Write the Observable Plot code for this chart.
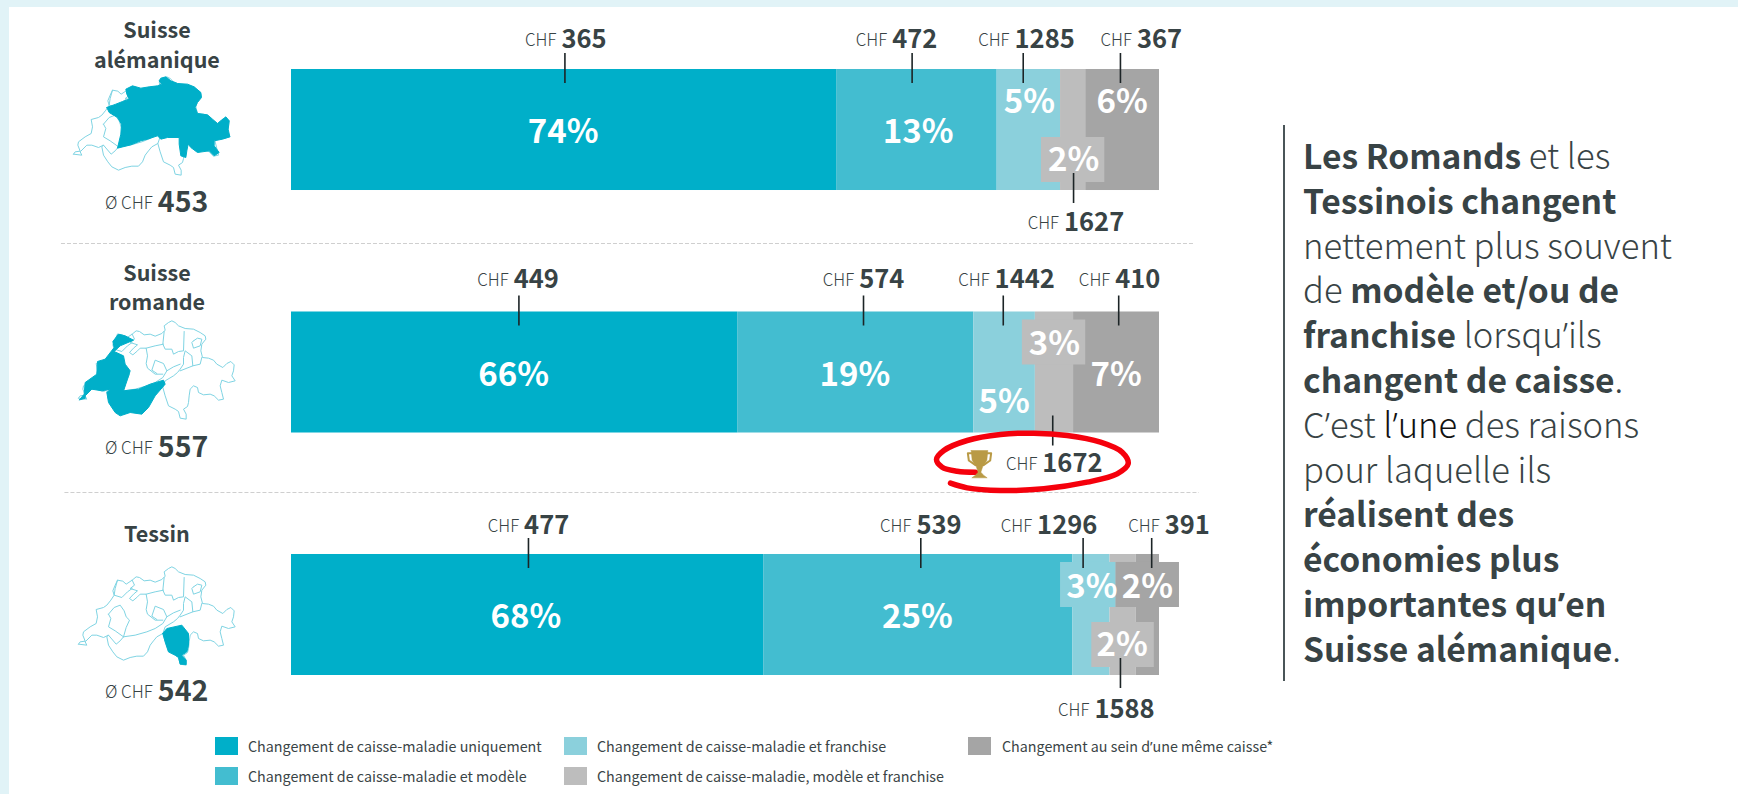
<!DOCTYPE html>
<html lang="fr">
<head>
<meta charset="utf-8">
<script src="https://cdn.jsdelivr.net/npm/d3@7"></script>
<script src="https://cdn.jsdelivr.net/npm/@observablehq/plot@0.6"></script>
<style>
  html,body{margin:0;padding:0;background:#e1f3f7;}
  #page{position:relative;width:1738px;height:794px;overflow:hidden;background:#e1f3f7;font-family:"Noto Sans CJK SC","Noto Sans",sans-serif;color:#384345;}
  #white{position:absolute;left:9px;top:7px;right:0;bottom:0;background:#fff;}
  #chart,.overlay{position:absolute;}
  svg{background:transparent !important;overflow:visible;}
  #story{position:absolute;left:1283px;top:125px;height:556px;border-left:2.5px solid #4a5558;padding-left:18px;font-size:34.6px;line-height:44.8px;font-weight:300;white-space:nowrap;}
  #story .inner{margin-top:7px;}
  #story b{font-weight:700;font-size:33.6px;line-height:0;} #story i{font-style:normal;color:#111;}
  .apo{font-family:"Noto Sans",sans-serif;line-height:0;}
  .lg{position:absolute;font-size:14.3px;line-height:18px;white-space:nowrap;color:#3a4446;}
  .sw{position:absolute;width:23px;height:18px;}
</style>
</head>
<body>
<div id="page"><div id="white"></div><div id="chart"></div><div id="story"><div class="inner">
<b>Les Romands</b> et les<br><b>Tessinois changent</b><br>nettement plus souvent<br>de <b>modèle et/ou de</b><br><b>franchise</b> lorsqu<span class="apo">’</span>ils<br><b>changent de caisse</b>.<br>C<span class="apo">’</span>est <i>l<span class="apo">’</span>une</i> des raisons<br>pour laquelle ils<br><b>réalisent des</b><br><b>économies plus</b><br><b>importantes qu<span class="apo">’</span>en</b><br><b>Suisse alémanique</b>.
</div></div></div>
<script>
// ---------- data ----------
const regions = ["Suisse alémanique", "Suisse romande", "Tessin"];
const regionTitles = ["Suisse\nalémanique", "Suisse\nromande", "Tessin"];
const regionAverages = [453, 557, 542];
const segments = [
  "Changement de caisse-maladie uniquement",
  "Changement de caisse-maladie et modèle",
  "Changement de caisse-maladie et franchise",
  "Changement de caisse-maladie, modèle et franchise",
  "Changement au sein d’une même caisse*"
];
const colors = ["#00afc9", "#43bdd0", "#8bd0dc", "#bdbdbd", "#a5a5a5"];
// drawn bar lengths (share of the bar)
const lengthsAlemanique = [62.8, 18.5, 7.3, 2.9, 8.5];
const lengthsRomande = [51.4, 27.2, 7.1, 4.4, 9.9];
const lengthsTessin = [54.4, 35.6, 4.3, 3.0, 2.7];
// printed percentages
const percentAlemanique = [74, 13, 5, 2, 6];
const percentRomande = [66, 19, 5, 3, 7];
const percentTessin = [68, 25, 3, 2, 2];
// where each percentage sits along the bar
const percentAtAlemanique = [31.3, 72.2, 85.0, 90.1, 95.7];
const percentAtRomande = [25.6, 64.9, 82.1, 87.9, 95.0];
const percentAtTessin = [27.0, 72.1, 92.2, 95.7, 98.6];
const percentLevelAlemanique = ["mid", "mid", "top", "low", "top"];
const percentLevelRomande = ["mid", "mid", "low", "top", "mid"];
const percentLevelTessin = ["mid", "mid", "top", "low", "top"];
// printed amounts (CHF) by segment
const chfAlemanique = [365, 472, 1285, 1627, 367];
const chfRomande = [449, 574, 1442, 1672, 410];
const chfTessin = [477, 539, 1296, 1588, 391];
const leaderAtAlemanique = [31.5, 71.5, 84.3, 90.1, 95.5];
const leaderAtRomande = [26.2, 65.9, 82.0, 87.7, 95.3];
const leaderAtTessin = [27.3, 72.5, 91.2, 95.5, 99.1];
const chfAtAlemanique = [31.1, 69.2, 83.3, 89.0, 97.4];
const chfAtRomande = [25.6, 65.4, 81.0, 86.5, 94.9];
const chfAtTessin = [26.8, 72.0, 85.9, 92.5, 100.6];
const boxRow = [0, 1, 2, 2, 2];
const boxSegment = [3, 3, 2, 4, 3];
const boxFrom = [86.4, 84.2, 88.6, 95.0, 92.2];
const boxTo = [93.7, 91.5, 95.0, 102.3, 99.4];
const boxLevel = ["low", "top", "top", "top", "low"];

// ---------- map outlines (read in picture units) ----------
const swissOutline = [[115,372],[120,365],[135,363],[128,345],[130,335],[150,320],[168,310],[172,290],[168,268],[190,262],[200,255],[212,240],[222,225],[218,212],[225,195],[232,180],[248,183],[258,192],[276,180],[288,170],[298,172],[312,182],[330,180],[345,186],[365,178],[375,168],[372,155],[385,145],[395,140],[405,145],[415,155],[435,163],[460,165],[480,175],[495,185],[497,195],[485,210],[482,230],[487,250],[505,252],[520,258],[530,270],[548,280],[560,268],[572,262],[582,272],[580,290],[575,305],[585,320],[565,325],[545,318],[540,335],[545,355],[550,375],[535,378],[522,365],[510,360],[490,362],[475,355],[472,340],[460,335],[450,345],[447,365],[445,385],[442,397],[430,405],[438,420],[438,435],[420,432],[415,412],[405,405],[385,395],[375,365],[368,340],[350,350],[340,362],[330,375],[322,395],[310,408],[290,408],[270,412],[250,420],[230,410],[218,395],[205,375],[200,350],[205,345],[190,352],[170,345],[155,345],[135,365],[140,375]];
const cantonLines = [
  [[276,180],[283,195],[270,205],[292,212],[280,222],[268,235],[278,242],[292,230],[300,222],[318,222],[322,245],[318,268],[322,282],[345,300],[368,300]],
  [[205,282],[222,262],[240,255],[252,272],[258,290],[268,300],[258,322],[250,350],[240,362],[228,372],[205,345]],
  [[205,282],[212,295],[205,320],[225,332],[250,350]],
  [[250,350],[285,345],[320,335],[345,325],[368,310],[380,290],[370,268],[345,258],[335,288],[350,298]],
  [[368,340],[375,320],[400,305],[412,295],[420,285],[430,270],[430,250],[435,230],[455,245],[458,275],[420,290]],
  [[372,172],[368,210],[375,225],[395,225],[400,240],[415,232],[430,230],[432,172]],
  [[460,200],[472,192],[485,195],[480,215],[460,222],[455,205],[460,200]],
  [[458,275],[480,270],[485,250]],
  [[380,290],[400,278],[420,270]],
  [[318,222],[345,215],[370,210]],
  [[232,180],[225,205],[222,225],[245,232],[262,215],[276,205]]
];
// fills, each read in its own crop's units
const fillAlemanique = [[318,320],[345,310],[365,302],[385,295],[378,280],[375,265],[395,255],[420,262],[445,258],[470,255],[482,250],[475,240],[480,232],[495,228],[510,240],[530,248],[560,250],[580,258],[600,275],[602,290],[590,305],[583,320],[590,338],[620,342],[635,355],[650,368],[675,348],[685,360],[682,385],[687,408],[665,415],[640,420],[640,435],[655,455],[640,465],[625,450],[590,455],[570,440],[562,430],[558,450],[555,470],[540,465],[535,430],[535,410],[500,410],[480,415],[470,405],[440,415],[420,420],[390,432],[350,442],[360,400],[362,370],[350,350],[325,335]];
const fillRomande = [[118,297],[132,280],[135,245],[170,220],[172,182],[195,175],[222,140],[218,122],[235,100],[255,105],[280,118],[240,135],[222,152],[250,165],[255,190],[270,210],[262,235],[250,270],[295,265],[330,250],[370,238],[375,250],[345,285],[325,320],[305,340],[270,335],[240,345],[225,335],[205,305],[200,275],[210,265],[185,270],[155,265],[135,285],[135,293]];
const fillTessin = [[368,340],[380,325],[425,315],[445,340],[445,375],[440,395],[425,405],[438,420],[438,433],[420,432],[415,412],[405,405],[385,395],[375,365]];
const ellipseStroke = [[150,668],[200,682],[300,690],[430,685],[560,665],[650,640],[683,610],[665,575],[600,545],[500,525],[400,518],[300,522],[200,540],[130,570],[108,597],[125,620],[170,632],[225,635]];
const trophyBody = [[212,570],[262,570],[259,600],[247,617],[241,635],[250,645],[260,652],[214,652],[224,645],[233,635],[227,617],[215,600]];
const trophyHandleL = [[214,578],[202,578],[205,600],[225,614]];
const trophyHandleR = [[260,578],[272,578],[269,600],[249,614]];

// ---------- tables ----------
const lengths = [lengthsAlemanique, lengthsRomande, lengthsTessin];
const percents = [percentAlemanique, percentRomande, percentTessin];
const percentAts = [percentAtAlemanique, percentAtRomande, percentAtTessin];
const percentLevels = [percentLevelAlemanique, percentLevelRomande, percentLevelTessin];
const chfs = [chfAlemanique, chfRomande, chfTessin];
const leaders = [leaderAtAlemanique, leaderAtRomande, leaderAtTessin];
const chfAts = [chfAtAlemanique, chfAtRomande, chfAtTessin];

const barRows = regions.flatMap((region, r) => segments.map((segment, s) => ({
  region, segment, length: lengths[r][s], percent: percents[r][s] + "%",
  percentAt: percentAts[r][s], level: percentLevels[r][s],
  chf: chfs[r][s], leader: leaders[r][s], chfAt: chfAts[r][s],
  low: s === 3
})));
const boxes = boxRow.map((r, i) => ({region: regions[r], segment: segments[boxSegment[i]], x1: boxFrom[i], x2: boxTo[i], level: boxLevel[i]}));

// ---------- chart ----------
const font = '"Noto Sans CJK SC","Noto Sans",sans-serif';
const ink = "#384345";
const color = {domain: segments, range: colors};
const levelDy = {top: -28, mid: 2.5, low: 30};
const bandH = 121;
const marks = [];

marks.push(Plot.barX(barRows, Plot.stackX({x: "length", y: "region", fill: "segment", order: null})));
marks.push(
  Plot.barX(boxes.filter(d => d.level === "top"), {x1: "x1", x2: "x2", y: "region", fill: "segment", insetTop: 8, insetBottom: 68}),
  Plot.barX(boxes.filter(d => d.level === "low"), {x1: "x1", x2: "x2", y: "region", fill: "segment", insetTop: 68, insetBottom: 8})
);
for (const lv of ["top", "mid", "low"]) {
  marks.push(Plot.text(barRows.filter(d => d.level === lv), {
    x: "percentAt", y: "region", text: "percent", dy: levelDy[lv],
    fill: "#fff", fontSize: 33, fontWeight: 700, fontFamily: font, lineAnchor: "middle"
  }));
}
marks.push(
  Plot.tickX(barRows.filter(d => !d.low), {x: "leader", y: "region", stroke: "#1c2426", strokeWidth: 1.6, insetTop: -16, insetBottom: bandH - 14}),
  Plot.tickX(barRows.filter(d => d.low), {x: "leader", y: "region", stroke: "#1c2426", strokeWidth: 1.6, insetTop: bandH - 17, insetBottom: -13})
);
const topDy = [-90.5, -92.5, -89], lowDy = [92.5, 91.5, 94.5];
regions.forEach((region, r) => {
  for (const low of [false, true]) {
    const rows = barRows.filter(d => d.region === region && d.low === low);
    const dy = low ? lowDy[r] : topDy[r];
    marks.push(
      Plot.text(rows, {x: "chfAt", y: "region", text: d => String(d.chf), dy, dx: 0, textAnchor: "start",
        fill: ink, fontSize: 25.5, fontWeight: 700, fontFamily: font, lineAnchor: "middle"}),
      Plot.text(rows, {x: "chfAt", y: "region", text: () => "CHF", dy: dy + 1, dx: -5, textAnchor: "end",
        fill: ink, fontSize: 16.8, fontWeight: 300, fontFamily: font, lineAnchor: "middle"})
    );
  }
});
const titleX = -15.5, avgX = -15.4, avgDy = [72.5, 75.5, 76.5];
const regionRows = regions.map((region, i) => ({region, title: regionTitles[i], avg: String(regionAverages[i])}));
marks.push(
  Plot.text(regionRows.slice(0, 2), {x: () => titleX, y: "region", text: "title", dy: -86.3, lineHeight: 1.35,
    fill: ink, fontSize: 21.5, fontWeight: 700, fontFamily: font, lineAnchor: "middle"}),
  Plot.text(regionRows.slice(2), {x: () => titleX, y: "region", text: "title", dy: -80,
    fill: ink, fontSize: 21.5, fontWeight: 700, fontFamily: font, lineAnchor: "middle"})
);
regionRows.forEach((row, i) => marks.push(
  Plot.text([row], {x: () => avgX, y: "region", text: "avg", dy: avgDy[i], textAnchor: "start",
    fill: ink, fontSize: 28.5, fontWeight: 700, fontFamily: font, lineAnchor: "middle"}),
  Plot.text([row], {x: () => avgX, y: "region", text: () => "Ø CHF", dy: avgDy[i] + 1, dx: -5, textAnchor: "end",
    fill: ink, fontSize: 17, fontWeight: 300, fontFamily: font, lineAnchor: "middle"})
));
marks.push(
  Plot.ruleY([regions[1]], {y: d => d, x1: () => -26.5, x2: () => 104.1, dy: -129, stroke: "#cfcfcf", strokeDasharray: "4 2", strokeWidth: 1}),
  Plot.ruleY([regions[2]], {y: d => d, x1: () => -26.1, x2: () => 104.6, dy: -122.5, stroke: "#cfcfcf", strokeDasharray: "4 2", strokeWidth: 1})
);

const chart = Plot.plot({
  width: 1738, height: 794,
  margin: 0,
  x: {domain: [0, 100], range: [291, 1159], axis: null},
  y: {domain: regions, range: [69, 675], paddingInner: 0.501, paddingOuter: 0, align: 0, round: false, axis: null},
  color,
  marks
});
document.getElementById("chart").append(chart);

// ---------- map overlays ----------
const page = document.getElementById("page");
function overlay(left, top, wPx, hPx, xDomain, yDomain, marks) {
  const p = Plot.plot({
    width: wPx, height: hPx, margin: 0,
    x: {domain: xDomain, range: [0, wPx], axis: null},
    y: {domain: yDomain, range: [0, hPx], axis: null},
    marks
  });
  p.classList.add("overlay");
  p.style.left = left + "px"; p.style.top = top + "px";
  page.append(p);
}
const lineC = "#7fd4e3", pts = (a, z) => a.map(([x, y]) => ({x, y, z}));
function swiss(left, top, fill, ox, oy) {
  const inner = cantonLines.flatMap((l, i) => pts(l, i));
  const f = pts(fill.concat([fill[0]]), 0);
  overlay(left, top, 170, 120, [100, 610], [130, 490], [
    Plot.line(pts(swissOutline.concat([swissOutline[0]]), 0), {x: "x", y: "y", stroke: lineC, strokeWidth: 1}),
    Plot.line(inner, {x: "x", y: "y", z: "z", stroke: lineC, strokeWidth: 1}),
    Plot.line(f, {x: d => d.x + ox, y: d => d.y + oy, fill: colors[0], stroke: colors[0], strokeWidth: 1})
  ]);
}
swiss(34.4 + 100/3, 29.3 + 130/3, fillAlemanique, -103, -88);
swiss(40 + 100/3, 273.3 + 130/3, fillRomande, 0, 80);
swiss(40 + 100/3, 520 + 130/3, fillTessin, 0, 0);

overlay(900, 260, 320, 240, [0, 960], [0, 720], [
  Plot.line(pts(ellipseStroke, 0), {x: "x", y: "y", stroke: "#f5000c", strokeWidth: 5.5, curve: "catmull-rom", strokeLinecap: "round"}),
  Plot.line(pts(trophyBody.concat([trophyBody[0]]), 0), {x: "x", y: "y", fill: "#b99a45", stroke: "#b99a45", strokeWidth: 0.5}),
  Plot.line(pts(trophyHandleL, 0), {x: "x", y: "y", stroke: "#b99a45", strokeWidth: 2}),
  Plot.line(pts(trophyHandleR, 0), {x: "x", y: "y", stroke: "#b99a45", strokeWidth: 2})
]);

// ---------- legend ----------
const legendCol = [215, 215, 564, 564, 968];
const legendRow = [737, 767, 737, 767, 737];
const legendTextCol = [248, 248, 597, 597, 1002];
segments.forEach((s, i) => {
  const sw = document.createElement("div");
  sw.className = "sw"; sw.style.left = legendCol[i] + "px"; sw.style.top = legendRow[i] + "px"; sw.style.background = colors[i];
  const t = document.createElement("div");
  t.className = "lg"; t.style.left = legendTextCol[i] + "px"; t.style.top = legendRow[i] + "px";
  t.innerHTML = s.replace("’", '<span class="apo">’</span>');
  page.append(sw, t);
});
</script>
</body>
</html>
